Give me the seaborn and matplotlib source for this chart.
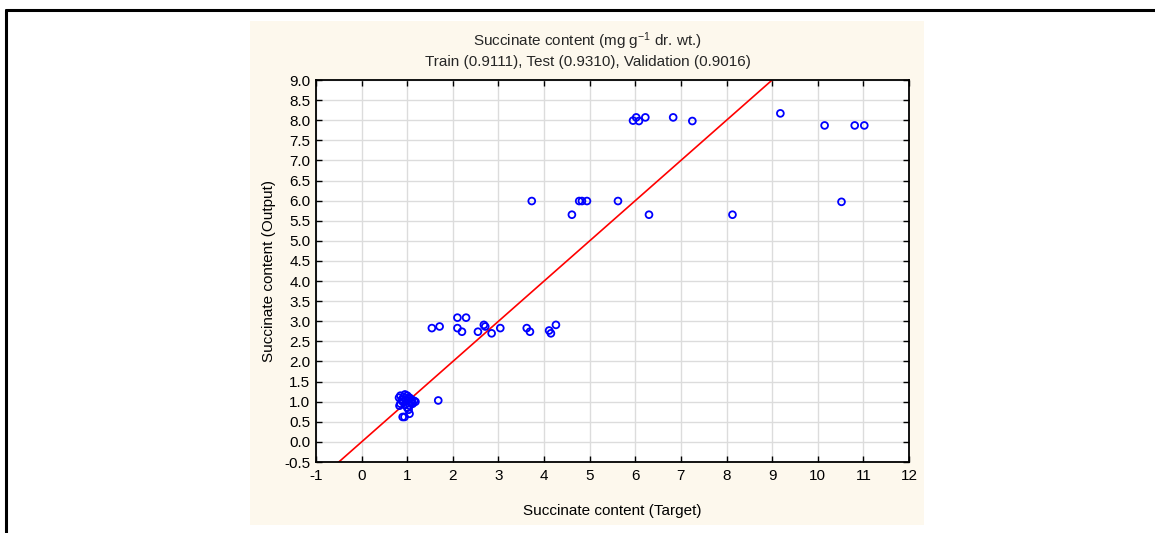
import matplotlib
matplotlib.use("Agg")
import matplotlib.pyplot as plt
import seaborn as sns
import pandas as pd
from matplotlib.patches import Rectangle
from matplotlib.lines import Line2D

# ---- data ----
target = [
    # cluster near 1
    0.82, 0.85, 0.88, 0.90, 0.85, 0.83, 0.92, 0.95, 1.00, 1.02, 1.05, 1.08, 1.10,
    1.12, 1.15, 1.18, 0.95, 1.00, 1.03, 1.05, 0.90, 0.94, 1.05, 1.10, 0.98, 1.68,
    # ~3 group
    1.54, 1.71, 2.10, 2.29, 2.10, 2.20, 2.55, 2.68, 2.71, 2.85, 3.04, 3.62, 3.69,
    4.11, 4.15, 4.26,
    # ~6 group
    3.73, 4.61, 4.77, 4.83, 4.94, 5.62, 6.30, 8.13, 10.52,
    # ~8 group
    5.95, 6.02, 6.08, 6.22, 6.83, 7.25, 9.18, 10.15, 10.81, 11.02,
]
output = [
    1.10, 1.15, 1.05, 1.00, 0.95, 0.90, 1.12, 1.18, 1.15, 1.08, 1.10, 1.00, 1.05,
    0.95, 1.02, 1.00, 0.92, 0.85, 0.80, 0.90, 0.62, 0.62, 0.70, 0.98, 1.05, 1.03,
    2.83, 2.87, 3.09, 3.09, 2.83, 2.74, 2.74, 2.91, 2.87, 2.70, 2.83, 2.83, 2.74,
    2.77, 2.70, 2.91,
    5.99, 5.65, 5.99, 5.99, 5.99, 5.99, 5.65, 5.65, 5.97,
    7.99, 8.07, 7.98, 8.07, 8.07, 7.98, 8.17, 7.87, 7.87, 7.87,
]
identity = [-1.0, 12.0]
x_ticks = list(range(-1, 13))
y_ticks = [-0.5, 0.0, 0.5, 1.0, 1.5, 2.0, 2.5, 3.0, 3.5, 4.0, 4.5, 5.0, 5.5, 6.0,
           6.5, 7.0, 7.5, 8.0, 8.5, 9.0]

title_line1 = "Succinate content (mg g$^{-1}$ dr. wt.)"
title_line2 = "Train (0.9111), Test (0.9310), Validation (0.9016)"

sns.set_theme(style="white")
plt.rcParams['font.family'] = ['Liberation Sans', 'DejaVu Sans']
plt.rcParams['mathtext.fontset'] = 'custom'
plt.rcParams['mathtext.rm'] = 'Liberation Sans'
plt.rcParams['mathtext.it'] = 'Liberation Sans'
plt.rcParams['mathtext.default'] = 'regular'

FS = 11

fig = plt.figure(figsize=(11.55, 5.33), dpi=100)
fig.patch.set_facecolor("white")

# beige panel
fig.patches.append(Rectangle((250/1155, 1-525/533), 674/1155, 504/533,
                             transform=fig.transFigure, facecolor="#fdf8ed",
                             edgecolor="none", zorder=-10))
# black border lines (left and top)
fig.lines.append(Line2D([6/1155, 6/1155], [0, 1-10/533], transform=fig.transFigure,
                        color="black", lw=2.2, zorder=-5))
fig.lines.append(Line2D([6/1155, 1], [1-10/533, 1-10/533], transform=fig.transFigure,
                        color="black", lw=2.2, zorder=-5))

ax = fig.add_axes([316/1155, 1-462/533, (909-316)/1155, (462-80)/533])
ax.set_zorder(5)
ax.set_facecolor("white")

df = pd.DataFrame({"Target": target, "Output": output})
sns.lineplot(x=identity, y=identity, color="red", lw=1.2, ax=ax, zorder=2)
sns.scatterplot(data=df, x="Target", y="Output", ax=ax, marker="o", s=24,
                facecolor="none", edgecolor="#0000ff", linewidth=1.3, zorder=3)

ax.set_xlim(-1, 12)
ax.set_ylim(-0.5, 9.0)
ax.set_xticks(x_ticks)
ax.set_yticks(y_ticks)
ax.set_xticklabels([str(t) for t in x_ticks])
ax.set_yticklabels([f"{t:.1f}" for t in y_ticks])
ax.grid(True, color="#dcdcdc", lw=1.0)
ax.set_axisbelow(True)
for s in ax.spines.values():
    s.set_visible(True)
    s.set_color("black")
    s.set_linewidth(1.3)
ax.tick_params(axis="both", direction="in", length=4, width=1, colors="black",
               labelsize=FS, top=True, right=True, bottom=True, left=True,
               labeltop=False, labelright=False, pad=4)
ax.tick_params(axis="x", pad=5)

ax.set_xlabel("Succinate content (Target)", fontsize=FS, color="black", labelpad=15)
ax.set_ylabel("Succinate content (Output)", fontsize=FS, color="black", labelpad=6)

fig.text(588/1155, 1-41/533, title_line1, ha="center", va="center", fontsize=FS)
fig.text(588/1155, 1-62/533, title_line2, ha="center", va="center", fontsize=FS)

fig.savefig("out.png", dpi=100, facecolor="white")
